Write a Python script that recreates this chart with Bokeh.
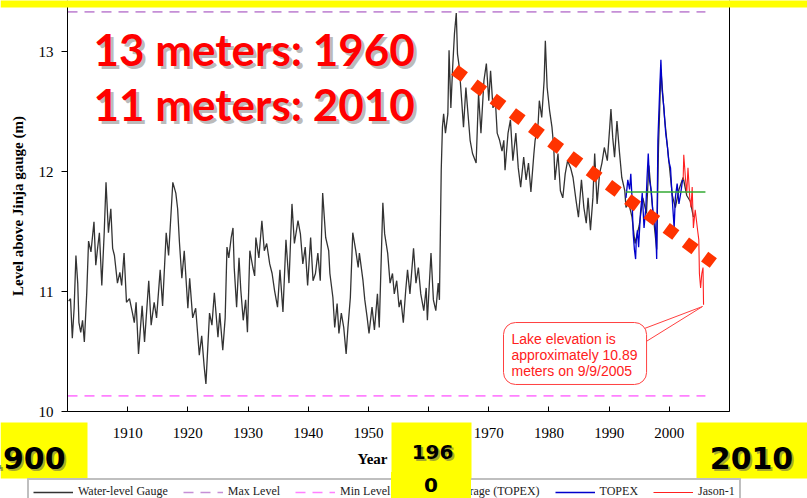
from bokeh.plotting import figure
from bokeh.models import (Range1d, FixedTicker, Label, BoxAnnotation, Legend, LegendItem,
                          LinearAxis, GlobalInlineStyleSheet)
from bokeh.embed import file_html
from bokeh.resources import INLINE

# ---------------- data ----------------
gauge_years = [
    1900.2, 1900.5, 1900.8, 1901.1, 1901.4, 1901.7, 1901.9, 1902.2, 1902.5, 1902.8,
    1903.2, 1903.5, 1903.9, 1904.4, 1904.7, 1905.0, 1905.3, 1905.7, 1906.1, 1906.4,
    1906.8, 1907.2, 1907.5, 1907.8, 1908.3, 1908.7, 1909.0, 1909.4, 1909.8, 1910.3,
    1910.8, 1911.1, 1911.4, 1911.8, 1912.4, 1912.8, 1913.5, 1913.9, 1914.4, 1914.8,
    1915.4, 1915.8, 1916.4, 1916.8, 1917.5, 1918.0, 1918.3, 1918.6, 1919.0, 1919.4,
    1920.0, 1920.3, 1920.8, 1921.3, 1921.9, 1922.3, 1922.7, 1923.0, 1923.6, 1924.0,
    1924.4, 1925.0, 1925.3, 1925.8, 1926.2, 1926.5, 1926.8, 1927.2, 1927.5, 1927.7,
    1928.1, 1928.5, 1928.8, 1929.2, 1929.6, 1929.9, 1930.3, 1930.8, 1931.1, 1931.3,
    1931.8, 1932.3, 1932.7, 1933.1, 1933.6, 1934.0, 1934.4, 1934.9, 1935.3, 1935.8,
    1936.3, 1936.8, 1937.3, 1937.7, 1938.3, 1938.7, 1939.1, 1939.5, 1939.9, 1940.4,
    1940.8, 1941.2, 1941.6, 1942.0, 1942.4, 1942.9, 1943.4, 1943.6, 1944.1, 1944.4,
    1944.8, 1945.1, 1945.5, 1945.9, 1946.3, 1946.6, 1947.0, 1947.4, 1947.9, 1948.3,
    1948.5, 1949.1, 1949.4, 1949.8, 1950.1, 1950.6, 1951.0, 1951.5, 1951.8, 1952.4,
    1952.7, 1953.2, 1953.6, 1954.0, 1954.3, 1954.7, 1955.1, 1955.4, 1955.8, 1956.2,
    1956.5, 1956.9, 1957.5, 1957.9, 1958.3, 1958.7, 1959.2, 1959.6, 1959.8, 1960.4,
    1960.8, 1961.2, 1961.6, 1961.8, 1961.9, 1962.1, 1962.3, 1962.5, 1962.8, 1963.2,
    1963.4, 1963.7, 1964.0, 1964.3, 1964.6, 1964.8, 1965.1, 1965.5, 1965.8, 1966.2,
    1966.5, 1966.9, 1967.3, 1967.9, 1968.3, 1968.7, 1969.2, 1969.6, 1970.0, 1970.3,
    1970.7, 1971.1, 1971.4, 1971.8, 1972.2, 1972.5, 1972.7, 1973.2, 1973.6, 1974.0,
    1974.5, 1974.9, 1975.3, 1975.8, 1976.2, 1976.6, 1977.0, 1977.5, 1977.7, 1978.2,
    1978.4, 1978.8, 1979.2, 1979.4, 1979.7, 1980.1, 1980.5, 1980.8, 1981.0, 1981.5,
    1981.9, 1982.3, 1982.7, 1983.1, 1983.6, 1984.0, 1984.5, 1984.9, 1985.4, 1985.8,
    1986.2, 1986.5, 1986.9, 1987.3, 1987.6, 1988.0, 1988.4, 1988.8, 1989.2, 1989.7,
    1990.1, 1990.3, 1990.6, 1990.9, 1991.3, 1991.7, 1992.1, 1992.6, 1992.8, 1993.2,
    1993.8, 1994.3, 1995.0, 1995.6, 1996.2, 1996.6, 1997.2, 1997.9, 1998.2, 1998.6,
    1999.2, 1999.8, 2000.5, 2001.0, 2001.6, 2002.3, 2002.9, 2003.5, 2004.0,
]
gauge_levels = [
    10.92, 10.94, 10.61, 10.86, 11.30, 11.07, 10.74, 10.66, 10.76, 10.58,
    10.99, 11.42, 11.33, 11.58, 11.22, 11.36, 11.49, 11.05, 11.49, 11.91,
    11.49, 11.69, 11.36, 11.30, 11.07, 11.16, 11.05, 11.32, 10.91, 10.94,
    10.82, 10.74, 10.91, 10.48, 10.88, 10.58, 11.09, 10.72, 10.91, 10.78,
    11.18, 10.88, 11.49, 11.30, 11.91, 11.82, 11.69, 11.41, 11.11, 11.34,
    10.86, 11.11, 10.78, 10.86, 10.47, 10.63, 10.38, 10.23, 10.82, 10.72,
    10.99, 10.62, 10.82, 10.51, 10.78, 11.37, 11.28, 11.45, 11.53, 11.20,
    10.87, 11.28, 11.01, 10.76, 10.93, 10.66, 11.34, 11.20, 11.13, 11.45,
    11.28, 11.59, 11.34, 11.40, 11.23, 11.15, 11.01, 10.87, 11.18, 10.83,
    11.43, 11.07, 11.73, 11.40, 11.59, 11.48, 11.23, 11.37, 11.05, 11.45,
    11.09, 11.15, 11.32, 11.09, 11.82, 11.45, 11.34, 11.15, 10.95, 10.70,
    10.90, 10.65, 10.82, 10.70, 10.48, 10.70, 10.95, 11.49, 11.34, 11.20,
    11.32, 11.09, 10.93, 10.78, 10.65, 10.87, 10.68, 10.98, 10.70, 11.74,
    11.48, 11.32, 11.07, 11.15, 10.98, 11.09, 10.87, 10.93, 10.74, 11.01,
    11.18, 10.98, 11.36, 11.07, 11.20, 10.98, 10.84, 11.03, 10.76, 11.32,
    10.93, 10.84, 11.07, 10.93, 11.28, 12.01, 12.37, 12.48, 12.32, 12.48,
    13.01, 12.53, 12.87, 13.15, 13.32, 12.98, 12.87, 12.59, 12.37, 12.70,
    12.51, 12.26, 12.15, 12.07, 12.65, 12.32, 12.76, 12.90, 12.59, 12.84,
    12.53, 12.59, 12.32, 12.26, 12.17, 12.26, 12.01, 12.32, 12.43, 12.09,
    12.32, 12.03, 11.87, 12.12, 11.93, 12.07, 11.83, 12.15, 12.26, 12.40,
    12.59, 12.45, 12.76, 13.09, 12.70, 12.51, 12.37, 12.20, 11.93, 12.15,
    11.84, 11.78, 11.98, 12.09, 12.03, 11.95, 11.76, 11.62, 11.93, 11.70,
    11.57, 11.78, 11.51, 11.78, 12.15, 11.73, 11.98, 12.07, 12.20, 12.09,
    12.37, 12.52, 12.28, 12.12, 12.42, 12.17, 11.95, 11.84, 11.70, 11.75,
    11.62, 11.40, 11.55, 11.78, 11.65, 12.05, 11.70, 11.35, 12.20, 12.85,
    12.45, 12.15, 11.80, 11.70, 11.85, 11.95, 11.80, 11.75, 11.62,
]
topex_years = [
    1992.8, 1993.1, 1993.4, 1993.6, 1993.8, 1994.0, 1994.2, 1994.4, 1994.5, 1994.7,
    1994.9, 1995.2, 1995.5, 1995.8, 1996.1, 1996.3, 1996.5, 1996.7, 1997.0, 1997.3,
    1997.6, 1997.8, 1997.9, 1998.1, 1998.4, 1998.6, 1998.8, 1999.1, 1999.4, 1999.7,
    1999.9, 2000.2, 2000.5, 2000.8, 2001.0, 2001.3, 2001.6, 2001.9, 2002.2,
]
topex_levels = [
    11.78, 11.93, 11.85, 11.98, 11.78, 11.48, 11.35, 11.27, 11.42, 11.51,
    11.37, 11.65, 11.82, 11.53, 11.70, 11.95, 12.15, 11.93, 11.84, 11.65,
    11.59, 11.43, 11.27, 12.26, 12.68, 12.93, 12.68, 12.53, 12.32, 12.20,
    12.09, 12.03, 11.76, 11.53, 11.78, 11.90, 11.73, 11.82, 11.93,
]
jason_years = [
    2002.3, 2002.4, 2002.7, 2002.9, 2003.1, 2003.4, 2003.6, 2003.8, 2004.0, 2004.3,
    2004.7, 2004.9, 2005.0, 2005.2, 2005.4, 2005.6, 2005.69,
]
jason_levels = [
    11.93, 12.14, 11.93, 11.82, 12.03, 11.78, 11.70, 11.87, 11.53, 11.68,
    11.51, 11.43, 11.15, 11.03, 11.15, 11.20, 10.89,
]
level_span_years = [1900, 2006]
max_level = 13.33
min_level = 10.13
avg_years = [1992.8, 2006]
avg_topex = 11.83
trend_years = [1964.34, 2007.31]
trend_levels = [12.847, 11.237]
x_ticks = [1900, 1910, 1920, 1930, 1940, 1950, 1960, 1970, 1980, 1990, 2000, 2010]
y_ticks = [10, 11, 12, 13]

# ---------------- geometry (page pixels -> data) ----------------
W, H = 807, 498
AX_L, AX_R, AX_B = 67, 729, 411          # pixel positions of 1900, 2010 and level 10
PX_YR = (AX_R - AX_L) / 110.0
PX_M = 120.0


def dx(px):
    return 1900 + (px - AX_L) / PX_YR


def dy(py):
    return 10 + (AX_B - py) / PX_M


p = figure(width=W, height=H, output_backend="svg", toolbar_location=None, title=None,
           x_range=Range1d(dx(0), dx(W)), y_range=Range1d(dy(H), dy(0)),
           x_axis_location=None, y_axis_location=None,
           min_border_left=0, min_border_right=0, min_border_top=0, min_border_bottom=0)
p.stylesheets = [GlobalInlineStyleSheet(css="html, body { margin: 0 !important; padding: 0; overflow: hidden; }")]
p.background_fill_color = "white"
p.border_fill_color = "white"
p.outline_line_color = None
p.grid.visible = False

serif = "Liberation Serif"
y_top = dy(0)

yaxis = LinearAxis(fixed_location=1900, bounds=(10, y_top), ticker=FixedTicker(ticks=y_ticks),
                   major_tick_in=0, major_tick_out=6, major_label_standoff=8,
                   axis_label="Level above Jinja gauge (m)", axis_label_standoff=10,
                   axis_label_text_font=serif, axis_label_text_font_style="bold",
                   axis_label_text_font_size="15px", axis_label_text_color="black")
xaxis = LinearAxis(fixed_location=10, bounds=(1900, 2010), ticker=FixedTicker(ticks=x_ticks),
                   major_tick_in=5, major_tick_out=0, major_label_standoff=16)
raxis = LinearAxis(fixed_location=2010, bounds=(10, y_top), ticker=FixedTicker(ticks=[]),
                   major_tick_in=0, major_tick_out=0, major_label_text_alpha=0)
for ax in (yaxis, xaxis, raxis):
    ax.major_label_text_font = serif
    ax.major_label_text_font_size = "15px"
    ax.major_label_text_color = "black"
    ax.axis_line_color = "black"
    ax.major_tick_line_color = "black"
    ax.minor_tick_line_color = None
p.add_layout(yaxis, "left")
p.add_layout(xaxis, "below")
p.add_layout(raxis, "right")

# ---------------- series ----------------
r_gauge = p.line(gauge_years, gauge_levels, line_color="#333333", line_width=1.3)
r_max = p.line(level_span_years, [max_level, max_level], line_color="#c58fd6",
               line_width=1.6, line_dash="10 7")
r_min = p.line(level_span_years, [min_level, min_level], line_color="#ff80ff",
               line_width=1.6, line_dash="10 7")
r_topex = p.line(topex_years, topex_levels, line_color="#0000cc", line_width=1.3)
r_jason = p.line(jason_years, jason_levels, line_color="#ff2020", line_width=1.1)
r_avg = p.line(avg_years, [avg_topex, avg_topex], line_color="#33aa33", line_width=1.5)
r_blank = p.line(x=[], y=[], line_alpha=0)   # invisible, only for the yellow "0" patch

# trend (square-dot thick line)
p.line(trend_years, trend_levels, line_color="#ff3300", line_width=12,
       line_dash="12 12", line_cap="butt")

# callout pointer
p.patch([dx(636), dx(702), dx(636)], [dy(331), dy(306), dy(347)],
        fill_color="white", line_color="#ff4040", line_width=1)

# ---------------- legend ----------------
legend = Legend(items=[
    LegendItem(label="Water-level Gauge", renderers=[r_gauge]),
    LegendItem(label="Max Level", renderers=[r_max]),
    LegendItem(label="Min Level", renderers=[r_min]),
    LegendItem(label="Average (TOPEX)", renderers=[r_avg]),
    LegendItem(label="TOPEX", renderers=[r_topex]),
    LegendItem(label="Jason-1", renderers=[r_jason]),
], orientation="horizontal", location=(27, -7), margin=0, padding=4,
    spacing=15, glyph_width=40, glyph_height=14, label_height=14, label_standoff=5,
    label_text_font=serif, label_text_font_size="12px", label_text_color="#222222",
    border_line_color="#7f7f7f", border_line_width=2, background_fill_color="white",
    background_fill_alpha=1)
p.add_layout(legend, "center")

# lower part of the middle yellow box ("0"), painted after the legend
legend_0 = Legend(items=[LegendItem(label="0", renderers=[r_blank])],
                  location=(391, 0), margin=0, padding=0, glyph_width=33, glyph_height=26,
                  label_width=47, label_height=26, label_standoff=0,
                  label_text_font="DejaVu Sans", label_text_font_style="bold",
                  label_text_font_size="20px", label_text_color="black",
                  background_fill_color="#ffff00", background_fill_alpha=1,
                  border_line_alpha=0)
p.add_layout(legend_0, "center")

# ---------------- annotations ----------------
p.add_layout(Label(x=dx(372), y=dy(458), text="Year", text_font=serif,
                   text_font_style="bold", text_font_size="15px", text_color="black",
                   text_align="center", text_baseline="middle"))

# callout box
p.add_layout(Label(x=dx(503), y=dy(353),
                   text="Lake elevation is\napproximately 10.89\nmeters on 9/9/2005",
                   text_font="Liberation Sans", text_font_size="14px", text_color="#ff2020",
                   text_align="left", text_baseline="middle", text_line_height=1.03,
                   background_fill_color="white", border_line_color="#ff4040",
                   border_line_width=1, border_radius=12, padding=(8, 9, 8, 5)))

# big red headline text with shadow
for txt, cy in (("13 meters: 1960", 48), ("11 meters: 2010", 103)):
    p.add_layout(Label(x=dx(96), y=dy(cy + 3), text=txt, text_font="Lato",
                       text_font_style="bold", text_font_size="44px", text_color="#777777",
                       text_alpha=0.5, text_align="left", text_baseline="middle"))
    p.add_layout(Label(x=dx(93), y=dy(cy), text=txt, text_font="Lato",
                       text_font_style="bold", text_font_size="44px", text_color="#ff0000",
                       text_align="left", text_baseline="middle"))

# yellow boxes
for (l, r, t, b) in ((0, 87, 422, 478), (391, 471, 422, 500), (696, 807, 422, 478), (0, 807, -2, 7)):
    p.add_layout(BoxAnnotation(left=dx(l), right=dx(r), top=dy(t), bottom=dy(b),
                               fill_color="#ffff00", fill_alpha=1, line_alpha=0,
                               level="overlay"))

box_texts = [("1900", 65, 457, "right", "30px"), ("2010", 751, 457, "center", "30px"),
             ("196", 432, 451, "center", "20px")]
for txt, tx, ty, al, fs in box_texts:
    p.add_layout(Label(x=dx(tx + 2), y=dy(ty + 2), text=txt, text_font="DejaVu Sans",
                       text_font_style="bold", text_font_size=fs, text_color="#555555",
                       text_alpha=0.5, text_align=al, text_baseline="middle", level="overlay"))
    p.add_layout(Label(x=dx(tx), y=dy(ty), text=txt, text_font="DejaVu Sans",
                       text_font_style="bold", text_font_size=fs, text_color="black",
                       text_align=al, text_baseline="middle", level="overlay"))

open("out.html", "w").write(file_html(p, INLINE))
